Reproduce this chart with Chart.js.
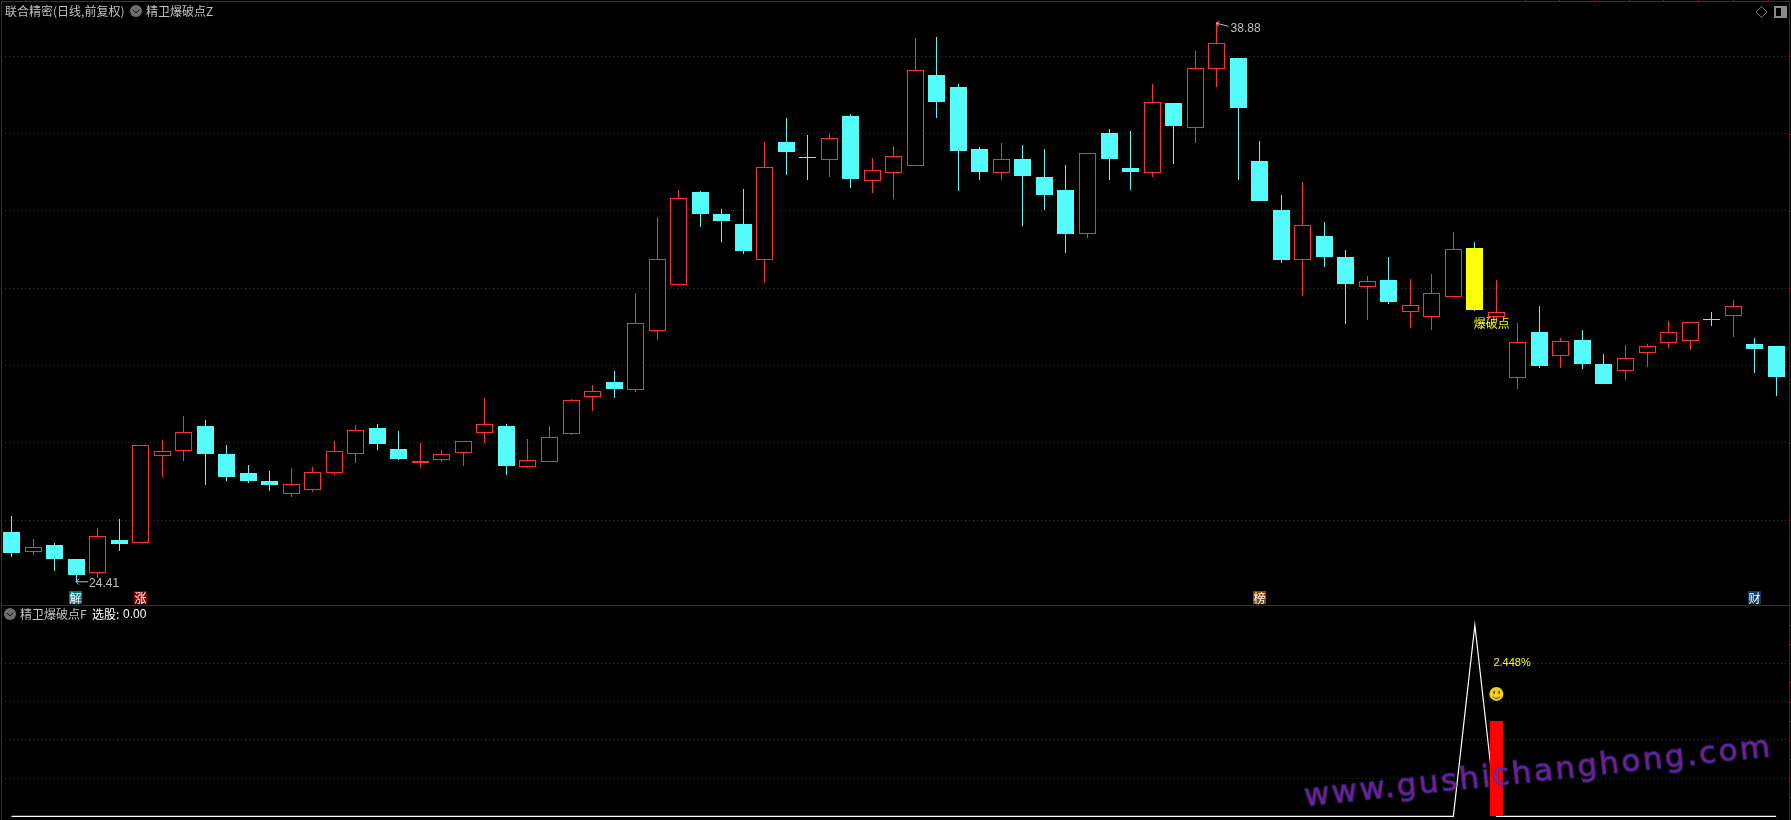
<!DOCTYPE html>
<html lang="zh-CN">
<head>
    <meta charset="UTF-8">
    <title>联合精密 精卫爆破点</title>
    <style>
        html, body { margin: 0; padding: 0; background: #000; overflow: hidden; }
        body { width: 1791px; height: 820px; position: relative; }
        #priceChart { position: absolute; left: 0; top: 0; }
        #signalChart { position: absolute; left: 0; top: 605px; }
        #watermark {
            position: absolute; left: 1306px; top: 777px; white-space: nowrap;
            font: 31px "DejaVu Sans", sans-serif; letter-spacing: 2.5px;
            color: rgba(170, 25, 140, 0.88);
            -webkit-text-stroke: 1.4px rgba(55, 50, 175, 0.7);
            transform: rotate(-6.1deg); transform-origin: 0 100%;
        }
    </style>
    <script src="https://cdn.jsdelivr.net/npm/chart.js"></script>
</head>
<body>
    <canvas id="priceChart" width="1791" height="605"></canvas>
    <canvas id="signalChart" width="1791" height="215"></canvas>
    <div id="watermark">www.gushichanghong.com</div>
    <script>
        // daily candles
        const opens = [25.70,25.19,25.36,25.00,24.65,25.49,25.42,27.67,27.80,28.44,27.72,27.22,27.02,26.69,26.79,27.23,27.72,28.39,27.84,27.49,27.57,27.75,28.27,28.44,27.39,27.52,28.24,29.18,29.58,29.38,30.90,32.09,34.49,33.92,33.66,32.74,35.78,35.40,35.33,36.46,34.78,34.99,35.17,37.52,37.21,35.60,34.99,35.34,34.88,34.54,33.41,36.02,35.11,34.99,36.79,36.15,37.68,37.96,35.29,34.03,32.74,33.35,32.81,32.04,32.21,31.40,31.27,31.78,33.04,31.27,29.69,30.87,30.26,30.66,30.04,29.87,30.33,30.59,30.65,31.21,31.29,30.56,30.51];
        const highs = [26.11,25.52,25.41,25.00,25.80,26.03,27.94,28.08,28.70,28.59,27.95,27.43,27.28,27.35,27.38,28.05,28.47,28.49,28.31,27.99,27.82,28.04,29.16,28.49,28.10,28.44,29.14,29.50,29.86,31.88,33.84,34.54,34.52,34.05,34.57,35.78,36.40,35.97,35.99,36.51,35.37,35.68,38.47,38.50,37.28,35.65,35.76,35.71,35.60,35.19,35.49,36.12,36.07,37.28,36.79,38.14,38.88,37.96,35.81,34.41,34.75,33.71,32.99,32.32,32.81,32.24,32.37,33.46,33.20,32.21,31.10,31.54,30.71,30.92,30.30,30.53,30.56,31.15,31.12,31.39,31.70,30.71,30.51];
        const lows = [25.05,25.10,24.69,24.41,24.52,25.21,25.42,27.12,27.53,26.91,27.02,26.96,26.76,26.60,26.73,27.17,27.48,27.82,27.56,27.35,27.51,27.40,27.99,27.17,27.35,27.52,28.21,28.83,29.16,29.32,30.66,32.09,33.59,33.20,32.89,32.14,34.93,34.80,34.88,34.59,34.46,34.31,35.17,36.40,34.52,34.80,34.80,33.61,34.03,32.91,33.30,34.80,34.54,34.88,35.21,35.76,37.21,34.80,34.26,32.65,31.80,32.55,31.08,31.18,31.59,30.97,30.92,31.78,31.41,31.14,29.40,29.94,29.94,29.91,29.52,29.63,29.96,30.46,30.40,31.03,30.74,29.81,29.21];
        const closes = [25.15,25.30,25.00,24.59,25.59,25.39,27.94,27.78,28.28,27.72,27.12,27.02,26.91,26.93,27.24,27.78,28.33,27.97,27.59,27.53,27.71,28.04,28.48,27.40,27.55,28.15,29.10,29.34,29.40,31.09,32.77,34.33,33.92,33.74,32.96,35.15,35.52,35.38,35.88,34.83,35.05,35.41,37.64,36.82,35.55,35.01,35.34,34.90,34.41,33.40,35.49,35.34,35.01,36.81,36.20,37.69,38.34,36.66,34.26,32.73,33.63,32.81,32.11,32.18,31.65,31.56,31.87,33.01,31.44,31.40,30.60,29.99,30.65,30.04,29.52,30.19,30.52,30.86,31.12,31.19,31.53,30.43,29.71];
        const days = opens.map((_, i) => i);
        const priceLevels = [26, 28, 30, 32, 34, 36, 38];
        const breakDay = 68;
        const tagDays = [3, 6, 58, 81];
        const tagLabels = ['解', '涨', '榜', '财'];

        // lower panel
        const signalLevels = [1, 2, 3, 4];
        const signalLine = days.map(i => i === 68 ? 5 : 0);
        const signalBar = days.map(i => i === 69 ? 2.49 : null);

        const RED = '#ff3232', CYAN = '#54fcfc', YELLOW = '#ffff00', FRAME = '#a80000';
        const GREY = '#c0c0c0';
        const CJK = '"Noto Sans CJK SC", sans-serif';

        function isUp(i) { return closes[i] >= opens[i]; }
        function wickColor(i) { return isUp(i) ? RED : CYAN; }

        // snap bars to whole pixels, the original is not antialiased
        const snapBars = {
            id: 'snapBars',
            afterDatasetsUpdate(chart) {
                chart.data.datasets.forEach((ds, n) => {
                    if (ds.type !== 'bar') return;
                    chart.getDatasetMeta(n).data.forEach(el => {
                        el.x = Math.floor(el.x) + 0.5;
                        el.y = Math.round(el.y);
                        el.base = Math.round(el.base);
                        if (el.base === el.y) el.base = el.y + 1;
                    });
                });
            }
        };

        function hLine(ctx, x1, x2, y, color) {
            ctx.fillStyle = color;
            ctx.fillRect(x1, y, x2 - x1, 1);
        }
        function vLine(ctx, x, y1, y2, color) {
            ctx.fillStyle = color;
            ctx.fillRect(x, y1, 1, y2 - y1);
        }
        function text(ctx, str, x, y, color, font) {
            ctx.fillStyle = color;
            ctx.font = font;
            ctx.textBaseline = 'middle';
            ctx.textAlign = 'left';
            ctx.fillText(str, x, y);
        }
        function chevron(ctx, x, y) {
            ctx.fillStyle = '#6e6e6e';
            ctx.beginPath();
            ctx.arc(x, y, 6, 0, Math.PI * 2);
            ctx.fill();
            ctx.strokeStyle = '#111';
            ctx.lineWidth = 1;
            ctx.beginPath();
            ctx.moveTo(x - 3, y - 1);
            ctx.lineTo(x, y + 2);
            ctx.lineTo(x + 3, y - 1);
            ctx.stroke();
        }

        const priceOverlay = {
            id: 'priceOverlay',
            afterDraw(chart) {
                const ctx = chart.ctx, xs = chart.scales.x, ys = chart.scales.y;
                ctx.save();
                // frame
                hLine(ctx, 1, 1790, 1, FRAME);
                vLine(ctx, 1, 1, 605, FRAME);
                vLine(ctx, 1789, 1, 605, FRAME);
                priceLevels.forEach(v => hLine(ctx, 1789, 1791, Math.round(ys.getPixelForValue(v)), FRAME));
                [25, 1525, 1559, 1594, 1629, 1663, 1698, 1733, 1768].forEach(x => vLine(ctx, x, 0, 1, FRAME));

                // headings
                text(ctx, '联合精密(日线,前复权)', 5, 11, GREY, '12px ' + CJK);
                chevron(ctx, 136, 11);
                text(ctx, '精卫爆破点Z', 146, 11, GREY, '12px ' + CJK);

                // icons top right
                ctx.strokeStyle = '#777';
                ctx.lineWidth = 1;
                ctx.beginPath();
                ctx.moveTo(1761.5, 6.5); ctx.lineTo(1767, 12); ctx.lineTo(1761.5, 17.5); ctx.lineTo(1756, 12);
                ctx.closePath();
                ctx.stroke();
                ctx.strokeStyle = '#8a8a8a';
                ctx.lineWidth = 2;
                ctx.strokeRect(1775, 7, 11, 10);
                ctx.fillStyle = '#8a8a8a';
                ctx.fillRect(1781, 7, 5, 10);

                // extreme labels, hung on the bars they belong to
                const hiDay = highs.indexOf(Math.max(...highs));
                const loDay = lows.indexOf(Math.min(...lows));
                const hx = xs.getPixelForValue(hiDay), hy = ys.getPixelForValue(highs[hiDay]);
                ctx.strokeStyle = GREY;
                ctx.lineWidth = 1;
                ctx.beginPath();
                ctx.moveTo(hx + 12, hy + 4); ctx.lineTo(hx, hy + 1); ctx.lineTo(hx + 3, hy - 1);
                ctx.moveTo(hx, hy + 1); ctx.lineTo(hx + 2, hy + 4);
                ctx.stroke();
                text(ctx, highs[hiDay].toFixed(2), hx + 14, hy + 6, GREY, '12px "Liberation Sans"');

                const lx = xs.getPixelForValue(loDay), ly = ys.getPixelForValue(lows[loDay]);
                ctx.beginPath();
                ctx.moveTo(lx + 12, ly); ctx.lineTo(lx, ly); ctx.lineTo(lx + 3, ly - 3);
                ctx.moveTo(lx, ly); ctx.lineTo(lx + 3, ly + 3);
                ctx.stroke();
                text(ctx, lows[loDay].toFixed(2), lx + 13, ly + 2, GREY, '12px "Liberation Sans"');

                text(ctx, '爆破点', xs.getPixelForValue(breakDay) - 1, ys.getPixelForValue(31.1), YELLOW, '12px ' + CJK);

                // event tags above the panel line
                const tagColors = ['#007a7a', '#800000', '#8b4500', '#0a3a6a'];
                tagDays.forEach((d, i) => {
                    const x = Math.round(xs.getPixelForValue(d)) - 7;
                    ctx.fillStyle = tagColors[i];
                    ctx.fillRect(x, 591, 13, 13);
                    text(ctx, tagLabels[i], x + 0.5, 598, '#fff', '12px ' + CJK);
                });
                ctx.restore();
            }
        };

        const signalOverlay = {
            id: 'signalOverlay',
            afterDraw(chart) {
                const ctx = chart.ctx, xs = chart.scales.x, ys = chart.scales.y;
                ctx.save();
                hLine(ctx, 1, 1790, 0, FRAME);
                vLine(ctx, 1, 0, 215, FRAME);
                vLine(ctx, 1789, 0, 215, FRAME);
                [0.5, 1, 1.5, 2, 2.5, 3, 3.5, 4, 4.5, 5].forEach(v => hLine(ctx, 1789, 1791, Math.round(ys.getPixelForValue(v)), FRAME));

                chevron(ctx, 10, 9);
                text(ctx, '精卫爆破点F', 20, 9, GREY, '12px ' + CJK);
                text(ctx, '选股: ', 92, 9, '#fff', '12px ' + CJK);
                text(ctx, '0.00', 123, 10, '#fff', '12px "Liberation Sans"');

                const x = xs.getPixelForValue(69);
                text(ctx, '2.448%', x - 3, ys.getPixelForValue(4.02), YELLOW, '11px "Liberation Sans"');

                // smiley
                const sy = ys.getPixelForValue(3.2);
                ctx.fillStyle = '#f2cf1e';
                ctx.beginPath();
                ctx.arc(x, sy, 7, 0, Math.PI * 2);
                ctx.fill();
                ctx.fillStyle = '#5a4400';
                ctx.fillRect(x - 3, sy - 3, 1.5, 3);
                ctx.fillRect(x + 2, sy - 3, 1.5, 3);
                ctx.strokeStyle = '#5a4400';
                ctx.lineWidth = 1;
                ctx.beginPath();
                ctx.arc(x, sy, 4.5, 0.2 * Math.PI, 0.8 * Math.PI);
                ctx.stroke();
                ctx.restore();
            }
        };

        function gridOnlyY(levels, min, max) {
            return {
                min: min, max: max,
                border: { display: false, dash: [1, 3] },
                ticks: { display: false },
                afterBuildTicks: axis => { axis.ticks = levels.map(v => ({ value: v })); },
                grid: { color: '#c00000', drawTicks: false, lineWidth: 1 }
            };
        }

        const commonOptions = {
            responsive: false,
            animation: false,
            devicePixelRatio: 1,
            events: [],
            layout: { padding: { left: 0.74, right: 4.1, top: 0, bottom: 0 } },
            plugins: { legend: { display: false }, tooltip: { enabled: false }, title: { display: false } }
        };

        new Chart(document.getElementById('priceChart'), {
            type: 'bar',
            data: {
                labels: days,
                datasets: [
                    {
                        type: 'bar', label: 'body', order: 1, grouped: false, barThickness: 17, inflateAmount: 0,
                        data: days.map(i => [opens[i], closes[i]]),
                        backgroundColor: days.map(i => i === breakDay ? YELLOW : (isUp(i) ? '#000' : CYAN)),
                        borderColor: days.map(i => i === breakDay ? YELLOW : (isUp(i) ? RED : CYAN)),
                        borderWidth: 1, borderSkipped: false
                    },
                    {
                        type: 'bar', label: 'wick', order: 2, grouped: false, barThickness: 1, inflateAmount: 0,
                        data: days.map(i => [lows[i], highs[i]]),
                        backgroundColor: days.map(wickColor),
                        borderWidth: 0
                    }
                ]
            },
            options: {
                ...commonOptions,
                scales: {
                    x: { display: false },
                    y: gridOnlyY(priceLevels, 23.81, 39.456)
                }
            },
            plugins: [snapBars, priceOverlay]
        });

        new Chart(document.getElementById('signalChart'), {
            type: 'bar',
            data: {
                labels: days,
                datasets: [
                    {
                        type: 'bar', label: '2.448%', order: 1, grouped: false, barThickness: 13, inflateAmount: 0,
                        data: signalBar, backgroundColor: '#ff0000', borderWidth: 0
                    },
                    {
                        type: 'line', label: '选股', order: 2, data: signalLine,
                        borderColor: '#ffffff', borderWidth: 1.2, pointRadius: 0, tension: 0
                    }
                ]
            },
            options: {
                ...commonOptions,
                scales: {
                    x: { display: false },
                    y: gridOnlyY(signalLevels, -0.097, 5.524)
                }
            },
            plugins: [snapBars, signalOverlay]
        });
    </script>
</body>
</html>
